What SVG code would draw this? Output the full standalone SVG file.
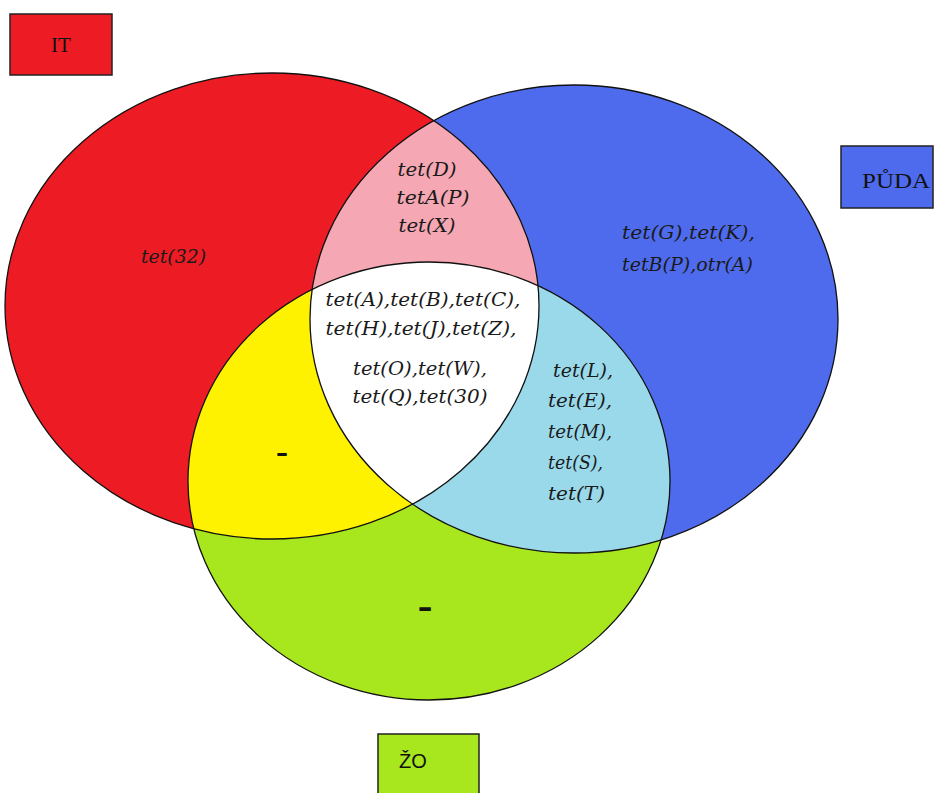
<svg xmlns="http://www.w3.org/2000/svg" width="934" height="793" viewBox="0 0 934 793">
<style>
.set{stroke:none}
.outline{fill:none;stroke:#111;stroke-width:1.3}
.box{stroke:#222;stroke-width:1.5}
.lbl{font-family:"Liberation Serif","DejaVu Serif",serif;font-size:21px;fill:#111;text-anchor:middle}
.it{font-family:"DejaVu Serif","Liberation Serif",serif;font-style:italic;font-size:19px;fill:#1a1a1a}
.c{text-anchor:middle}
.dash{font-family:"Liberation Serif","DejaVu Serif",serif;font-weight:bold;fill:#111;text-anchor:middle}
</style>
<defs>
<ellipse id="eIT" cx="272" cy="306" rx="267" ry="233"/>
<ellipse id="ePU" cx="574" cy="319" rx="264" ry="234"/>
<ellipse id="eZO" cx="429" cy="481" rx="241" ry="219"/>
<clipPath id="cIT"><use href="#eIT"/></clipPath>
<clipPath id="cPU"><use href="#ePU"/></clipPath>
</defs>
<rect width="934" height="793" fill="#fff"/>

<g id="set-IT">
<use href="#eIT" class="set" fill="#ED1C24"/>
</g>
<g id="set-PUDA">
<use href="#ePU" class="set" fill="#4F6BED"/>
</g>
<g id="set-ZO">
<use href="#eZO" class="set" fill="#A8E61D"/>
</g>
<g id="region-IT-PUDA" clip-path="url(#cIT)">
<use href="#ePU" fill="#F5A7B3"/>
</g>
<g id="region-IT-ZO" clip-path="url(#cIT)">
<use href="#eZO" fill="#FFF200"/>
</g>
<g id="region-PUDA-ZO" clip-path="url(#cPU)">
<use href="#eZO" fill="#99D9EA"/>
</g>
<g id="region-all" clip-path="url(#cIT)">
<g clip-path="url(#cPU)">
<use href="#eZO" fill="#FFFFFF"/>
</g>
</g>
<g id="outlines">
<use href="#eIT" class="outline"/>
<use href="#ePU" class="outline"/>
<use href="#eZO" class="outline"/>
</g>

<g id="label-IT">
<rect class="box" x="10" y="14" width="102" height="61" fill="#ED1C24"/>
<text class="lbl" x="61" y="52" fill="#3a0a0a">IT</text>
</g>
<g id="label-PUDA">
<rect class="box" x="841" y="146" width="92" height="62" fill="#4F6BED"/>
<text class="lbl" x="896" y="188" textLength="68" lengthAdjust="spacingAndGlyphs">PŮDA</text>
</g>
<g id="label-ZO">
<rect class="box" x="378" y="734" width="101" height="70" fill="#A8E61D"/>
<text class="lbl" x="413" y="768" style="font-family:'Liberation Sans','DejaVu Sans',sans-serif;font-size:20px">ŽO</text>
</g>

<g id="text-IT">
<text class="it" x="141" y="263" textLength="65" lengthAdjust="spacingAndGlyphs">tet(32)</text>
</g>
<g id="text-IT-PUDA">
<text class="it c" x="427" y="176" textLength="59" lengthAdjust="spacingAndGlyphs">tet(D)</text>
<text class="it c" x="433" y="204" textLength="73" lengthAdjust="spacingAndGlyphs">tetA(P)</text>
<text class="it c" x="427" y="232" textLength="57" lengthAdjust="spacingAndGlyphs">tet(X)</text>
</g>
<g id="text-all">
<text class="it c" x="423" y="306" textLength="195" lengthAdjust="spacingAndGlyphs">tet(A),tet(B),tet(C),</text>
<text class="it c" x="421" y="335" textLength="191" lengthAdjust="spacingAndGlyphs">tet(H),tet(J),tet(Z),</text>
<text class="it c" x="420" y="375" textLength="134" lengthAdjust="spacingAndGlyphs">tet(O),tet(W),</text>
<text class="it c" x="420" y="403" textLength="135" lengthAdjust="spacingAndGlyphs">tet(Q),tet(30)</text>
</g>
<g id="text-PUDA">
<text class="it" x="622" y="239" textLength="133" lengthAdjust="spacingAndGlyphs">tet(G),tet(K),</text>
<text class="it" x="622" y="271" textLength="131" lengthAdjust="spacingAndGlyphs">tetB(P),otr(A)</text>
</g>
<g id="text-PUDA-ZO">
<text class="it" x="553" y="377" textLength="60" lengthAdjust="spacingAndGlyphs">tet(L),</text>
<text class="it" x="548" y="407" textLength="64" lengthAdjust="spacingAndGlyphs">tet(E),</text>
<text class="it" x="548" y="438" textLength="64" lengthAdjust="spacingAndGlyphs">tet(M),</text>
<text class="it" x="548" y="469" textLength="55" lengthAdjust="spacingAndGlyphs">tet(S),</text>
<text class="it" x="548" y="500" textLength="57" lengthAdjust="spacingAndGlyphs">tet(T)</text>
</g>
<g id="text-IT-ZO">
<text class="dash" x="282" y="463" font-size="36">-</text>
</g>
<g id="text-ZO">
<text class="dash" x="425" y="620" font-size="44">-</text>
</g>
</svg>
